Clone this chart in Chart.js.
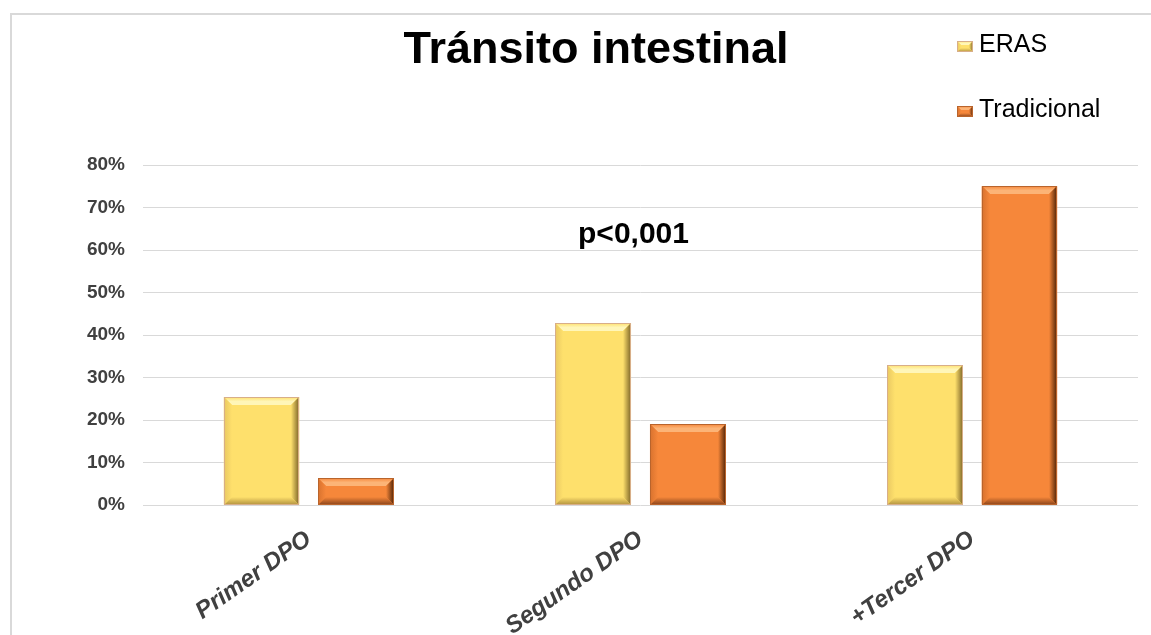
<!DOCTYPE html>
<html lang="es">
<head>
<meta charset="utf-8">
<title>Tránsito intestinal</title>
<script src="https://cdn.jsdelivr.net/npm/chart.js@4.4.1/dist/chart.umd.min.js"></script>
<style>
  html, body { margin: 0; padding: 0; background: #ffffff; }
  #wrap { position: relative; width: 1151px; height: 635px; }
</style>
</head>
<body>
<div id="wrap"><canvas id="chart" width="1151" height="635"></canvas></div>
<script>
// ---- data ----
const titleText = 'Tránsito intestinal';
const pValueText = 'p<0,001';
const categories = ['Primer DPO', 'Segundo DPO', '+Tercer DPO'];
const seriesNames = ['ERAS', 'Tradicional'];
const erasValues = [25.4, 42.8, 32.9];
const tradicionalValues = [6.3, 19.0, 75.0];
const yTickValues = [0, 10, 20, 30, 40, 50, 60, 70, 80];

// ---- styling ----
const FONT = "'Liberation Sans', Arial, sans-serif";
const palettes = [
  { face: '#FEE06C', hi: '#FFF6B8', left: '#E9C862', right: '#7E6628', bottom: '#B0903E', edge: '#D8AE88' },
  { face: '#F6873A', hi: '#FCB477', left: '#D8722E', right: '#4E2206', bottom: '#87421A', edge: '#B9642C' }
];

function poly(ctx, pts, fill) {
  ctx.beginPath();
  ctx.moveTo(pts[0][0], pts[0][1]);
  for (let i = 1; i < pts.length; i++) ctx.lineTo(pts[i][0], pts[i][1]);
  ctx.closePath();
  ctx.fillStyle = fill;
  ctx.fill();
}

// Beveled block: face plus four sloped edges
function bevelRect(ctx, x0, y0, x1, y1, p, b) {
  ctx.save();
  ctx.fillStyle = p.face;
  ctx.fillRect(x0, y0, x1 - x0, y1 - y0);

  let g = ctx.createLinearGradient(0, y0, 0, y0 + b);
  g.addColorStop(0, p.face); g.addColorStop(0.55, p.hi); g.addColorStop(1, p.hi);
  poly(ctx, [[x0, y0], [x1, y0], [x1 - b, y0 + b], [x0 + b, y0 + b]], g);

  g = ctx.createLinearGradient(x0, 0, x0 + b, 0);
  g.addColorStop(0, p.left); g.addColorStop(1, p.face);
  poly(ctx, [[x0, y0], [x0 + b, y0 + b], [x0 + b, y1 - b], [x0, y1]], g);

  g = ctx.createLinearGradient(x1 - b, 0, x1, 0);
  g.addColorStop(0, p.face); g.addColorStop(1, p.right);
  poly(ctx, [[x1, y0], [x1, y1], [x1 - b, y1 - b], [x1 - b, y0 + b]], g);

  g = ctx.createLinearGradient(0, y1 - b, 0, y1);
  g.addColorStop(0, p.face); g.addColorStop(1, p.bottom);
  poly(ctx, [[x0, y1], [x0 + b, y1 - b], [x1 - b, y1 - b], [x1, y1]], g);

  ctx.strokeStyle = p.edge;
  ctx.lineWidth = 1;
  ctx.strokeRect(x0 + 0.5, y0 + 0.5, x1 - x0 - 1, y1 - y0 - 1);
  ctx.restore();
}

const bevelBars = {
  id: 'bevelBars',
  afterDatasetsDraw(chart) {
    const ctx = chart.ctx;
    chart.data.datasets.forEach((ds, di) => {
      const meta = chart.getDatasetMeta(di);
      meta.data.forEach(bar => {
        const { x, y, base, width } = bar.getProps(['x', 'y', 'base', 'width'], true);
        const x0 = Math.round(x - width / 2), x1 = Math.round(x + width / 2);
        const y0 = Math.round(Math.min(y, base)), y1 = Math.round(Math.max(y, base));
        const b = Math.min(8, (y1 - y0) / 3, (x1 - x0) / 3);
        bevelRect(ctx, x0, y0, x1, y1, palettes[di], b);
      });
    });
  }
};

// Frame, title, legend and significance note
const decorations = {
  id: 'decorations',
  beforeDraw(chart) {
    const ctx = chart.ctx;
    ctx.save();
    ctx.fillStyle = '#ffffff';
    ctx.fillRect(0, 0, chart.width, chart.height);
    ctx.strokeStyle = '#D9D9D9';
    ctx.lineWidth = 2;
    ctx.beginPath();
    ctx.moveTo(11, chart.height);
    ctx.lineTo(11, 14);
    ctx.lineTo(chart.width, 14);
    ctx.stroke();
    ctx.restore();
  },
  afterDraw(chart) {
    const ctx = chart.ctx;
    ctx.save();
    ctx.fillStyle = '#000000';
    ctx.textBaseline = 'alphabetic';

    ctx.font = 'bold 45px ' + FONT;
    ctx.textAlign = 'center';
    ctx.fillText(titleText, 596, 63);

    ctx.font = 'bold 30px ' + FONT;
    const xs = chart.scales.x;
    ctx.fillText(pValueText, xs.getPixelForValue(1) - 7, 243);

    ctx.font = '25px ' + FONT;
    ctx.textAlign = 'left';
    const legendRows = [52, 117];
    seriesNames.forEach((name, i) => {
      const by = legendRows[i];
      bevelRect(ctx, 957, by - 11, 973, by, palettes[i], 4);
      ctx.fillStyle = '#000000';
      ctx.fillText(name, 979, by);
    });
    ctx.restore();
  }
};

new Chart(document.getElementById('chart'), {
  type: 'bar',
  data: {
    labels: categories,
    datasets: [
      { label: seriesNames[0], data: erasValues, backgroundColor: palettes[0].face, borderWidth: 0 },
      { label: seriesNames[1], data: tradicionalValues, backgroundColor: palettes[1].face, borderWidth: 0 }
    ]
  },
  options: {
    responsive: false,
    devicePixelRatio: 1,
    animation: false,
    events: [],
    layout: { padding: { top: 165, right: 13, left: 0, bottom: 0 } },
    datasets: { bar: { categoryPercentage: 0.57, barPercentage: 0.8 } },
    plugins: {
      legend: { display: false },
      title: { display: false },
      tooltip: { enabled: false }
    },
    scales: {
      x: {
        grid: { display: false },
        border: { display: false },
        ticks: {
          color: '#404040',
          font: { family: FONT, size: 24, weight: 'bold', style: 'italic' },
          minRotation: 35,
          maxRotation: 35,
          padding: 12
        },
        afterFit(scale) { scale.height = 130; }
      },
      y: {
        min: 0,
        max: 80,
        afterBuildTicks(scale) { scale.ticks = yTickValues.map(v => ({ value: v })); },
        grid: { color: '#D9D9D9', lineWidth: 1, drawTicks: false },
        border: { display: false },
        ticks: {
          color: '#404040',
          font: { family: FONT, size: 19, weight: 'bold' },
          padding: 18,
          callback: v => v + '%'
        },
        afterFit(scale) { scale.width = 143; }
      }
    }
  },
  plugins: [decorations, bevelBars]
});
</script>
</body>
</html>
